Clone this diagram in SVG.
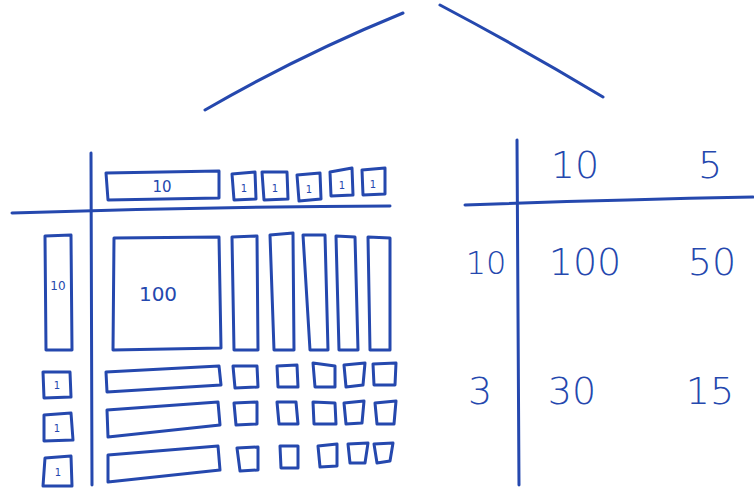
<svg xmlns="http://www.w3.org/2000/svg" width="754" height="491" viewBox="0 0 754 491">
<style>
.s{fill:none;stroke:#2548ae;stroke-width:3;stroke-linecap:round;stroke-linejoin:round}
.t{fill:#2548ae;font-family:"DejaVu Sans","Liberation Sans",sans-serif;text-anchor:middle}
.big{font-size:38px;font-weight:300}
</style>
<rect width="754" height="491" fill="#fff"/>
<g id="connectors" class="s">
<path d="M205,110 Q300,55 403,13"/>
<path d="M440,5 Q525,50 603,97"/>
</g>
<g id="left-grid" class="s">
<path d="M91,153 L92,485"/>
<path d="M12,213 Q200,207 390,206"/>
</g>
<g id="top-row" class="s">
<path d="M106,173 L219,171 L219,198 L108,200 Z"/>
<path d="M232,174 L255,172 L256,199 L234,200 Z"/>
<path d="M262,172 L287,172 L288,199 L264,200 Z"/>
<path d="M297,175 L320,173 L321,199 L299,201 Z"/>
<path d="M330,172 L352,168 L353,195 L331,196 Z"/>
<path d="M362,170 L385,168 L385,194 L363,195 Z"/>
</g>
<g id="top-labels">
<text class="t" x="162" y="192" font-size="15">10</text>
<text class="t" x="244" y="192" font-size="10">1</text>
<text class="t" x="275" y="192" font-size="10">1</text>
<text class="t" x="309" y="193" font-size="10">1</text>
<text class="t" x="342" y="189" font-size="10">1</text>
<text class="t" x="373" y="188" font-size="10">1</text>
</g>
<g id="left-col" class="s">
<path d="M45,236 L71,235 L72,350 L46,350 Z"/>
<path d="M43,372 L70,372 L71,397 L44,398 Z"/>
<path d="M44,415 L71,413 L73,440 L44,441 Z"/>
<path d="M45,458 L71,456 L72,486 L43,486 Z"/>
</g>
<g id="left-labels">
<text class="t" x="58" y="290" font-size="12">10</text>
<text class="t" x="57" y="389" font-size="10">1</text>
<text class="t" x="57" y="432" font-size="10">1</text>
<text class="t" x="58" y="476" font-size="10">1</text>
</g>
<g id="big-box" class="s">
<path d="M114,238 L219,237 L221,348 L113,350 Z"/>
</g>
<text class="t" x="158" y="301" font-size="20">100</text>
<g id="tall-cols" class="s">
<path d="M232,237 L257,236 L258,350 L234,350 Z"/>
<path d="M270,235 L293,233 L294,350 L274,350 Z"/>
<path d="M303,235 L325,235 L328,350 L310,350 Z"/>
<path d="M336,236 L355,237 L358,350 L339,350 Z"/>
<path d="M368,237 L390,238 L390,350 L370,350 Z"/>
</g>
<g id="row1" class="s">
<path d="M106,372 L219,366 L221,385 L107,392 Z"/>
<path d="M233,366 L257,366 L258,387 L235,388 Z"/>
<path d="M277,366 L297,365 L298,387 L278,387 Z"/>
<path d="M313,363 L335,366 L335,387 L315,387 Z"/>
<path d="M344,365 L365,363 L363,385 L346,387 Z"/>
<path d="M373,364 L396,363 L395,385 L374,385 Z"/>
</g>
<g id="row2" class="s">
<path d="M107,410 L218,402 L220,425 L108,437 Z"/>
<path d="M234,403 L257,402 L257,424 L236,425 Z"/>
<path d="M277,402 L296,402 L298,424 L279,424 Z"/>
<path d="M313,402 L335,403 L336,424 L314,424 Z"/>
<path d="M344,403 L364,401 L362,423 L346,424 Z"/>
<path d="M375,403 L396,401 L394,424 L377,424 Z"/>
</g>
<g id="row3" class="s">
<path d="M108,455 L218,446 L220,470 L108,482 Z"/>
<path d="M237,448 L258,447 L258,470 L240,471 Z"/>
<path d="M280,446 L298,446 L298,468 L281,468 Z"/>
<path d="M318,446 L337,444 L337,466 L320,467 Z"/>
<path d="M348,444 L368,443 L365,463 L350,463 Z"/>
<path d="M374,444 L393,443 L390,461 L377,463 Z"/>
</g>
<g id="right-table" class="s">
<path d="M517,140 L519,485"/>
<path d="M465,205 Q600,200 753,197"/>
</g>
<g id="right-labels">
<text class="t big" x="575" y="178">10</text>
<text class="t big" x="710" y="178">5</text>
<text class="t big" x="486" y="274" style="font-size:32px">10</text>
<text class="t big" x="585" y="275">100</text>
<text class="t big" x="712" y="275">50</text>
<text class="t big" x="480" y="404">3</text>
<text class="t big" x="572" y="404">30</text>
<text class="t big" x="710" y="404">15</text>
</g>
</svg>
